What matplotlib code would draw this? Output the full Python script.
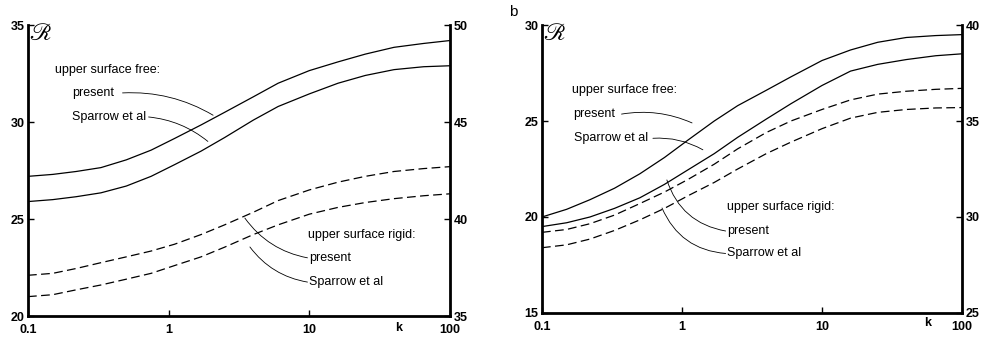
import matplotlib
matplotlib.use("Agg")
import matplotlib.pyplot as plt
import matplotlib.transforms as mtransforms

plt.rcParams["font.family"] = ["Liberation Sans", "DejaVu Sans"]
plt.rcParams["font.size"] = 9

# wave number k (log axis)
k = [0.1, 0.15, 0.22, 0.33, 0.5, 0.75, 1.1, 1.7, 2.5, 4, 6, 10, 16, 25, 40, 65, 100]

# panel a: upper surface free (left axis)
a_free_present = [27.2, 27.3, 27.45, 27.65, 28.05, 28.55, 29.15, 29.85, 30.5,
                  31.3, 32.0, 32.65, 33.1, 33.5, 33.85, 34.05, 34.2]
a_free_sparrow = [25.9, 26.0, 26.15, 26.35, 26.7, 27.2, 27.8, 28.5, 29.2,
                  30.1, 30.8, 31.45, 32.0, 32.4, 32.7, 32.85, 32.9]
# panel a: upper surface rigid (right axis)
a_rigid_present = [37.1, 37.2, 37.45, 37.75, 38.05, 38.35, 38.7, 39.2, 39.7,
                   40.35, 40.95, 41.5, 41.9, 42.2, 42.45, 42.6, 42.7]
a_rigid_sparrow = [36.0, 36.1, 36.35, 36.6, 36.9, 37.2, 37.6, 38.05, 38.55,
                   39.2, 39.7, 40.25, 40.6, 40.85, 41.05, 41.2, 41.3]

# panel b: upper surface free (left axis)
b_free_present = [20.0, 20.4, 20.9, 21.5, 22.25, 23.1, 24.0, 25.0, 25.8,
                  26.6, 27.3, 28.15, 28.7, 29.1, 29.35, 29.45, 29.5]
b_free_sparrow = [19.5, 19.7, 20.0, 20.45, 21.0, 21.7, 22.45, 23.3, 24.15,
                  25.1, 25.9, 26.85, 27.6, 27.95, 28.2, 28.4, 28.5]
# panel b: upper surface rigid (right axis)
b_rigid_present = [29.2, 29.35, 29.65, 30.1, 30.7, 31.3, 31.95, 32.75, 33.55,
                   34.4, 35.0, 35.6, 36.1, 36.4, 36.55, 36.65, 36.7]
b_rigid_sparrow = [28.4, 28.55, 28.85, 29.3, 29.85, 30.45, 31.1, 31.8, 32.5,
                   33.3, 33.9, 34.6, 35.15, 35.45, 35.6, 35.68, 35.7]

x_ticks = [0.1, 1, 10, 100]
x_labels = ["0.1", "1", "10", "100"]

DASH = (0, (7, 3.5))


def style_axes(ax, ax2, ylim, ylim2, yticks, yticks2):
    ax.set_xscale("log")
    ax.set_xlim(0.1, 100)
    ax.set_ylim(*ylim)
    ax2.set_ylim(*ylim2)
    ax.set_xticks(x_ticks)
    ax.set_xticklabels(x_labels, fontweight="bold")
    ax.xaxis.set_minor_locator(matplotlib.ticker.NullLocator())
    ax.set_yticks(yticks)
    ax.set_yticklabels([str(v) for v in yticks], fontweight="bold")
    ax2.set_yticks(yticks2)
    ax2.set_yticklabels([str(v) for v in yticks2], fontweight="bold")
    for a in (ax, ax2):
        a.spines["top"].set_visible(False)
        for s in a.spines.values():
            s.set_linewidth(2.0)
        a.tick_params(direction="in", length=4, width=1.0, pad=2.5)
    ax.tick_params(axis="x", pad=6)
    ax.spines["right"].set_visible(False)
    ax2.spines["left"].set_visible(False)
    ax2.spines["bottom"].set_visible(False)
    ax.patch.set_visible(False)


def leader(ax, start, end, rad):
    ax.annotate("", xy=end, xytext=start,
                arrowprops=dict(arrowstyle="-", lw=0.6, color="black",
                                shrinkA=0, shrinkB=0,
                                connectionstyle="arc3,rad=%s" % rad))


def labels(ax, head, pos_head, pos_p, pos_s, lead_p, lead_s, rad):
    ax.text(*pos_head, head, ha="left", va="center")
    ax.text(*pos_p, "present", ha="left", va="center")
    ax.text(*pos_s, "Sparrow et al", ha="left", va="center")
    leader(ax, lead_p[0], lead_p[1], rad)
    leader(ax, lead_s[0], lead_s[1], rad)


fig = plt.figure(figsize=(9.89, 3.38), dpi=100)

# ---------------- panel a ----------------
ax = fig.add_axes([0.0283, 0.065, 0.4267, 0.861])
ax2 = ax.twinx()
ax.plot(k, a_free_present, color="black", lw=0.9)
ax.plot(k, a_free_sparrow, color="black", lw=0.9)
ax2.plot(k, a_rigid_present, color="black", lw=0.9, linestyle=DASH)
ax2.plot(k, a_rigid_sparrow, color="black", lw=0.9, linestyle=DASH)
style_axes(ax, ax2, (20, 35), (35, 50), [20, 25, 30, 35], [35, 40, 45, 50])

labels(ax, "upper surface free:", (0.155, 32.7), (0.205, 31.5), (0.205, 30.26),
       ((0.47, 31.5), (2.07, 30.35)), ((0.72, 30.26), (1.9, 29.0)), -0.15)
labels(ax, "upper surface rigid:", (9.8, 24.18), (9.9, 22.99), (9.9, 21.75),
       ((3.48, 25.05), (9.7, 23.0)), ((3.78, 23.56), (9.7, 21.75)), 0.2)

ax.text(0.102, 35.1, r"$\mathscr{R}$", math_fontfamily="stix", fontsize=17,
        ha="left", va="top")
trans = mtransforms.blended_transform_factory(ax.transData, ax.transAxes)
ax.text(43, -0.04, "k", transform=trans, ha="center", va="center",
        fontweight="bold")

# ---------------- panel b ----------------
bx = fig.add_axes([0.548, 0.074, 0.4247, 0.852])
bx2 = bx.twinx()
bx.plot(k, b_free_present, color="black", lw=0.9)
bx.plot(k, b_free_sparrow, color="black", lw=0.9)
bx2.plot(k, b_rigid_present, color="black", lw=0.9, linestyle=DASH)
bx2.plot(k, b_rigid_sparrow, color="black", lw=0.9, linestyle=DASH)
style_axes(bx, bx2, (15, 30), (25, 40), [15, 20, 25, 30], [25, 30, 35, 40])

labels(bx, "upper surface free:", (0.164, 26.6), (0.166, 25.36), (0.17, 24.1),
       ((0.37, 25.36), (1.18, 24.9)), ((0.62, 24.1), (1.41, 23.5)), -0.15)
labels(bx, "upper surface rigid:", (2.1, 20.5), (2.1, 19.27), (2.1, 18.1),
       ((0.78, 21.93), (2.05, 19.27)), ((0.72, 20.47), (2.05, 18.1)), 0.3)

bx.text(0.102, 30.1, r"$\mathscr{R}$", math_fontfamily="stix", fontsize=17,
        ha="left", va="top")
trans = mtransforms.blended_transform_factory(bx.transData, bx.transAxes)
bx.text(57, -0.035, "k", transform=trans, ha="center", va="center",
        fontweight="bold")

fig.text(0.519, 0.965, "b", fontsize=11, ha="center", va="center")

fig.savefig("out.png", dpi=100)
